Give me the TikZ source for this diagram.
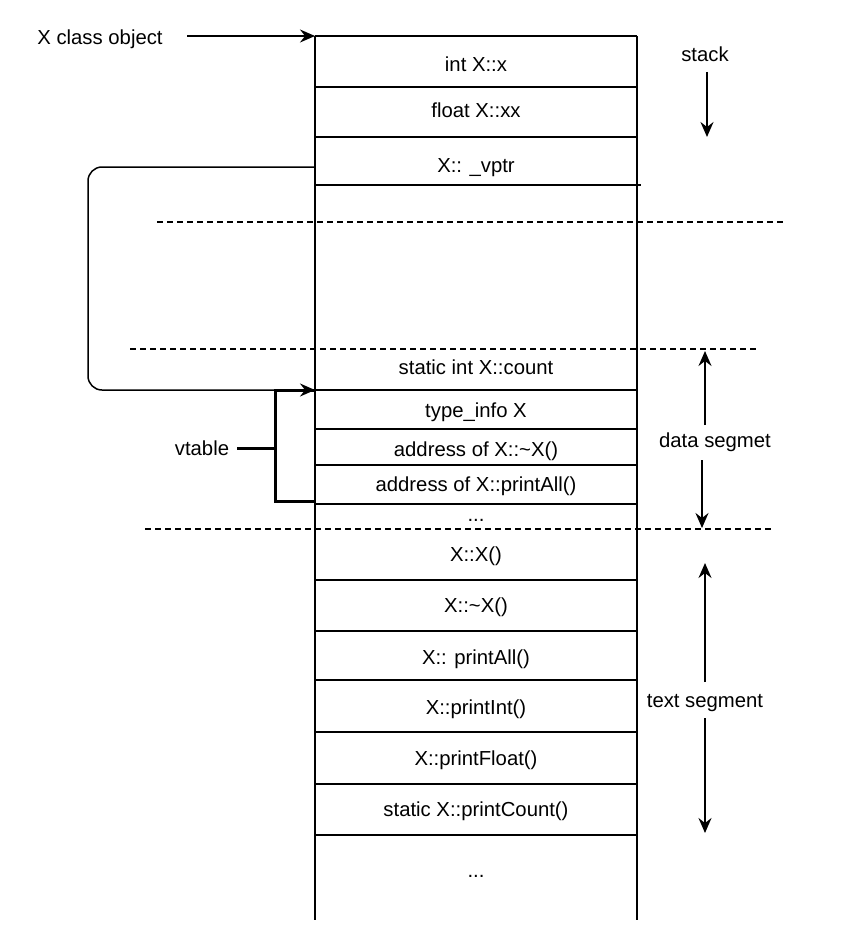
\documentclass[tikz,border=0pt]{standalone}
\usepackage{fontspec}
\setmainfont{Liberation Sans}
\usetikzlibrary{arrows.meta}
\begin{document}
\begin{tikzpicture}[x=1pt,y=-1pt,
  wall/.style={line width=1.5pt},
  dashline/.style={line width=1.3pt, dash pattern=on 6pt off 4pt},
  txt/.style={font=\fontsize{20.3}{24}\selectfont, anchor=base, yshift=-7.3pt, inner sep=0pt},
  arr/.style={line width=1.7pt, -{Stealth[length=15pt,width=13pt,inset=5pt]}},
  bracket/.style={line width=3pt}]
\useasboundingbox (0,0) rectangle (854,942);

% column walls
\coordinate (colTL) at (315,36);
\coordinate (colTR) at (637,36);
\coordinate (colBL) at (315,920);
\coordinate (colBR) at (637,920);
\draw[wall] (colTL) -- (colBL);
\draw[wall] (colTR) -- (colBR);
\draw[wall] (colTL) -- (colTR);

% row separators
\foreach \yy in {87,137,390,429,465,504,580,631,680,732,784,835}
  \draw[wall] (315,\yy) -- (637,\yy);
\draw[wall] (315,185) -- (641,185);

% dashed segment borders
\draw[dashline] (157,222) -- (784,222);
\draw[dashline] (130,349) -- (757,349);
\draw[dashline] (145,529) -- (772,529);

% cell texts
\node[txt] (c1) at (476,64) {int X::x};
\node[txt] (c2) at (476,110) {float X::xx};
\node[txt] (c3) at (476,165) {X:: \_vptr};
\node[txt] (d1) at (476,367.5) {static int X::count};
\node[txt] (d2) at (476,410) {type\_info X};
\node[txt] (d3) at (476,449) {address of X::\char`\~X()};
\node[txt] (d4) at (476,484) {address of X::printAll()};
\node[txt, yshift=0pt] (d5) at (476,514) {...};
\node[txt] (t1) at (476,554.5) {X::X()};
\node[txt] (t2) at (476,605.5) {X::\char`\~X()};
\node[txt] (t3) at (476,657) {X:: printAll()};
\node[txt] (t4) at (476,707) {X::printInt()};
\node[txt] (t5) at (476,758) {X::printFloat()};
\node[txt] (t6) at (476,809.5) {static X::printCount()};
\node[txt, yshift=0pt] (t7) at (476,870) {...};

% object pointer
\node[txt] (obj) at (100,37) {X class object};
\coordinate (objtail) at (187,36);
\draw[arr] (objtail) -- (colTL);

% vptr connector
\coordinate (vpstart) at (315,167);
\coordinate (vpend) at (315,390);
\draw[arr, line width=1.5pt, rounded corners=14pt] (vpstart) -- (88,167) -- (88,390) -- (vpend);

% vtable bracket
\coordinate (brTop) at (315,390);
\coordinate (brBot) at (315,501);
\draw[bracket] (brTop) -- (275,390) -- (275,501) -- (brBot);
\node[txt] (vt) at (202,448) {vtable};
\coordinate (vtTail) at (237,448);
\coordinate (vtHead) at (275,448);
\draw[bracket] (vtTail) -- (vtHead);

% stack
\node[txt] (stk) at (705,54) {stack};
\coordinate (stkA) at (707,72);
\coordinate (stkB) at (707,137);
\draw[arr] (stkA) -- (stkB);

% data segment
\node[txt] (dat) at (715,440) {data segmet};
\coordinate (datU1) at (705,425);
\coordinate (datU2) at (705,351);
\coordinate (datD1) at (702,460);
\coordinate (datD2) at (702,528);
\draw[arr] (datU1) -- (datU2);
\draw[arr] (datD1) -- (datD2);

% text segment
\node[txt] (tseg) at (705,700) {text segment};
\coordinate (tsU1) at (705,682);
\coordinate (tsU2) at (705,563);
\coordinate (tsD1) at (705,718);
\coordinate (tsD2) at (705,833);
\draw[arr] (tsU1) -- (tsU2);
\draw[arr] (tsD1) -- (tsD2);
\end{tikzpicture}
\end{document}
